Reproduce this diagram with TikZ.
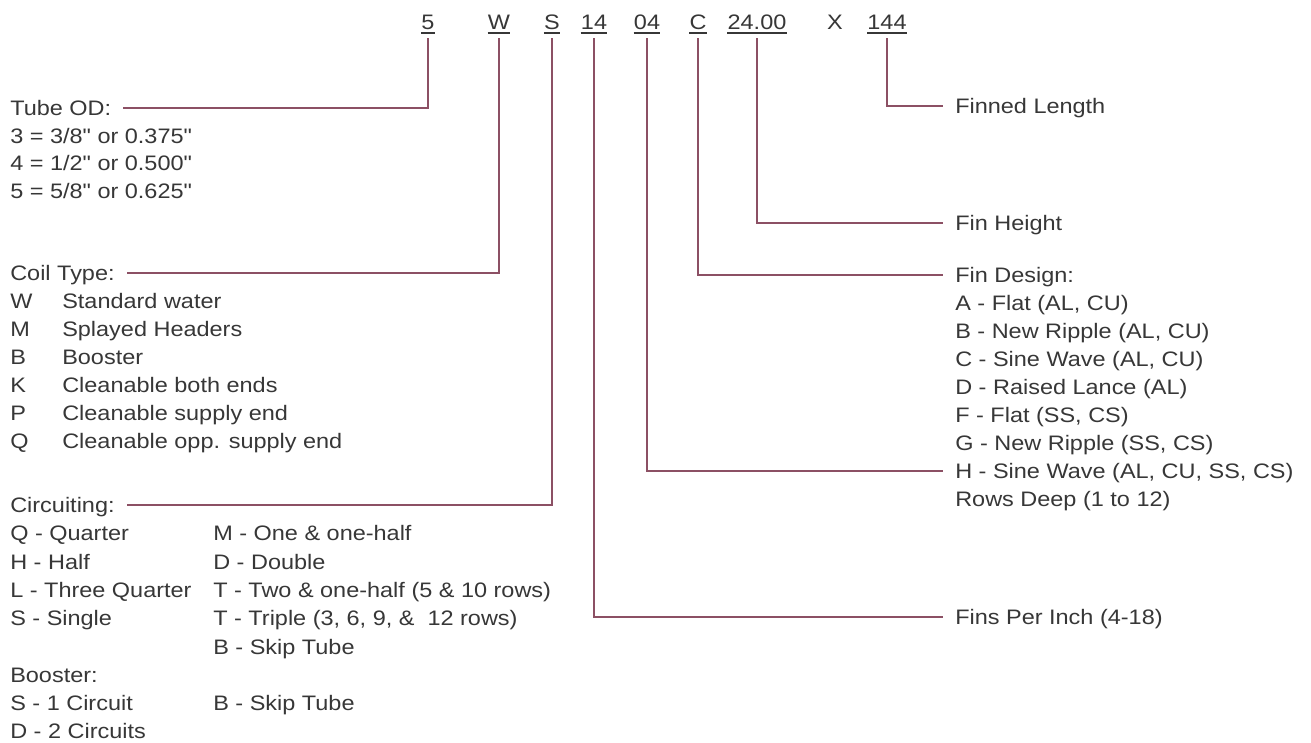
\documentclass[tikz,border=0pt]{standalone}
\usepackage{fontspec}
\setmainfont[FakeStretch=1.12]{Liberation Sans}
\newfontface\quotefont[FakeStretch=1.12, Ligatures=ResetAll]{Liberation Sans}
\usepackage{tikz}
\definecolor{leadline}{RGB}{140,80,100}
\definecolor{ink}{RGB}{55,55,55}
\newcommand{\inch}{{\quotefont\symbol{34}}}

\begin{document}
\begin{tikzpicture}[x=0.025cm, y=-0.025cm,
  every node/.style={text=ink, font=\fontsize{14.9pt}{18pt}\selectfont, inner sep=0pt},
  txt/.style={anchor=west, text height=10.7pt, text depth=0pt},
  code/.style={anchor=base, inner xsep=0pt, inner ysep=6.4pt, text depth=0pt},
  conn/.style={draw=leadline, line width=1.2pt},
  uline/.style={draw=ink, line width=0.8pt}]

  % Page frame
  \fill[white] (0,0) rectangle (1311,743);

  % Model code characters
  \foreach \t/\x/\n in {5/428/od, W/499/coil, S/552/circ, 14/594/fpi, 04/647/rows, C/698/design, 24.00/757/height, 144/887/length} {
    \node[code] (c-\n) at (\x,29) {\t};
    \draw[uline] ([yshift=-2.8pt]c-\n.base west) -- ([yshift=-2.8pt]c-\n.base east);
  }
  \node[code] (c-x) at (835,29) {X};

  % Tube OD
  \node[txt] (tubeod) at (10,108) {Tube OD:};
  \foreach \t [count=\i] in {3 = 3/8\inch{} or 0.375\inch, 4 = 1/2\inch{} or 0.500\inch, 5 = 5/8\inch{} or 0.625\inch}
    \node[txt] (od-\i) at (10,108+27.5*\i) {\t};

  % Coil Type
  \node[txt] (coiltype) at (10,273) {Coil Type:};
  \foreach \k/\d [count=\i] in {W/Standard water, M/Splayed Headers, B/Booster, K/Cleanable both ends, P/Cleanable supply end, Q/Cleanable opp. supply end} {
    \node[txt] (coilkey-\i) at (10,273+28*\i) {\k};
    \node[txt] (coil-\i) at (62,273+28*\i) {\d};
  }

  % Circuiting and Booster
  \node[txt] (circuit) at (10,505) {Circuiting:};
  \foreach \t [count=\i] in {Q - Quarter, H - Half, L - Three Quarter, S - Single}
    \node[txt] (circ-a\i) at (10,505+28.3*\i) {\t};
  \foreach \t [count=\i] in {M - One \& one-half, D - Double, T - Two \& one-half (5 \& 10 rows), {T - Triple (3, 6, 9, \&\ \ 12 rows)}, B - Skip Tube}
    \node[txt] (circ-b\i) at (213,505+28.3*\i) {\t};
  \node[txt] (booster) at (10,505+28.3*6) {Booster:};
  \node[txt] (boost-a1) at (10,505+28.3*7) {S - 1 Circuit};
  \node[txt] (boost-a2) at (10,505+28.3*8) {D - 2 Circuits};
  \node[txt] (boost-b1) at (213,505+28.3*7) {B - Skip Tube};

  % Right hand labels
  \node[txt] (finlength) at (955,106) {Finned Length};
  \node[txt] (finheight) at (955,223) {Fin Height};
  \node[txt] (findesign) at (955,275) {Fin Design:};
  \foreach \t [count=\i] in {{A - Flat (AL, CU)}, {B - New Ripple (AL, CU)}, {C - Sine Wave (AL, CU)}, {D - Raised Lance (AL)}, {F - Flat (SS, CS)}, {G - New Ripple (SS, CS)}, {H - Sine Wave (AL, CU, SS, CS)}, Rows Deep (1 to 12)}
    \node[txt] (fd-\i) at (955,275+28*\i) {\t};
  \node[txt] (fpi) at (955,617) {Fins Per Inch (4-18)};

  % Leader lines
  \draw[conn] (c-od.south) |- ([xshift=8.5pt]tubeod.east);
  \draw[conn] (c-coil.south) |- ([xshift=8.5pt]coiltype.east);
  \draw[conn] (c-circ.south) |- ([xshift=8.5pt]circuit.east);
  \draw[conn] (c-fpi.south) |- ([xshift=-8.5pt]fpi.west);
  \draw[conn] (c-rows.south) |- ([xshift=-8.5pt]fd-7.west);
  \draw[conn] (c-design.south) |- ([xshift=-8.5pt]findesign.west);
  \draw[conn] (c-height.south) |- ([xshift=-8.5pt]finheight.west);
  \draw[conn] (c-length.south) |- ([xshift=-8.5pt]finlength.west);

\end{tikzpicture}
\end{document}
